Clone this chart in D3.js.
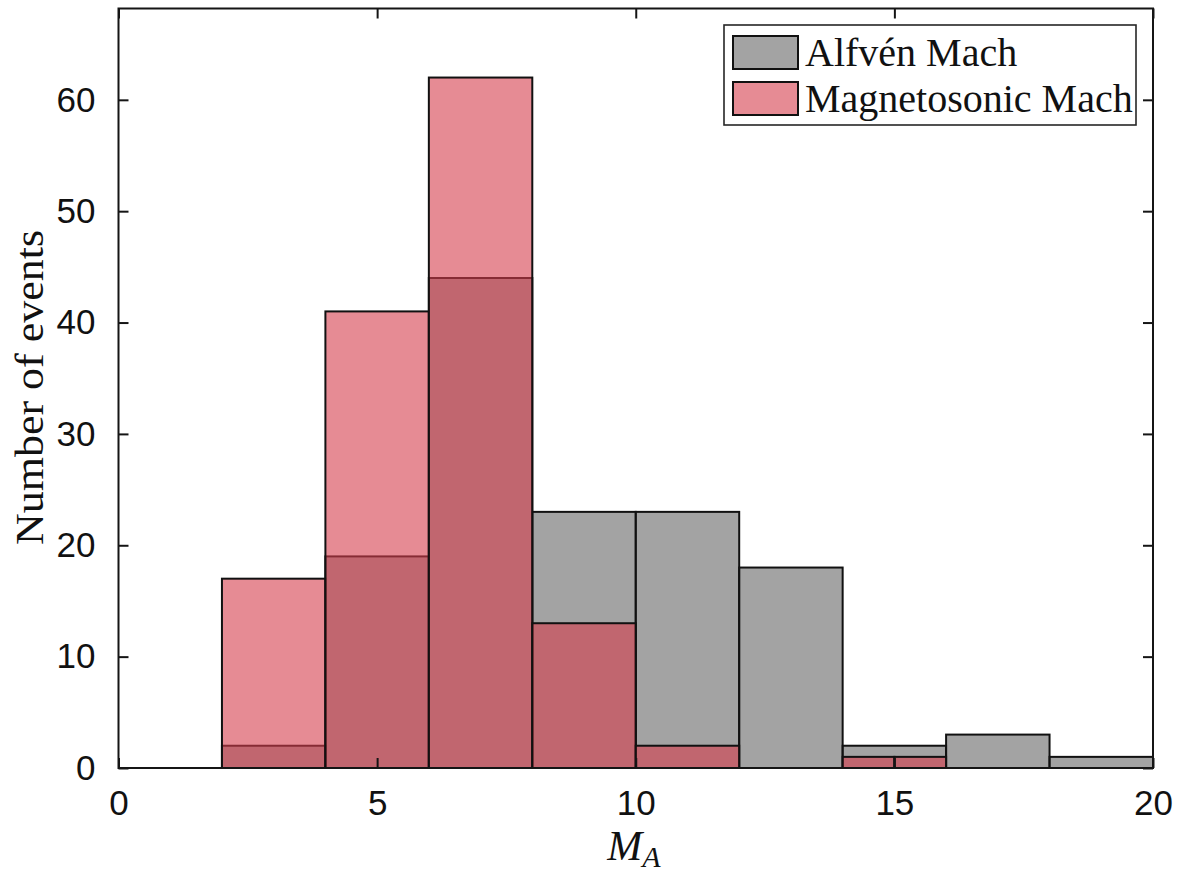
<!DOCTYPE html>
<html>
<head>
<meta charset="utf-8">
<script src="https://cdn.jsdelivr.net/npm/d3@7"></script>
<style>
  html, body { margin: 0; padding: 0; background: #fff; }
  svg { display: block; }
</style>
</head>
<body>
<svg id="chart" width="1180" height="872"></svg>
<script>
// Histogram bin edges and counts for the two Mach-number distributions
const alfvenEdges = [2, 4, 6, 8, 10, 12, 14, 16, 18, 20];
const alfvenCounts = [2, 19, 44, 23, 23, 18, 2, 3, 1];

const magnetoEdges = [2, 4, 6, 8, 10, 12, 14, 15, 16];
const magnetoCounts = [17, 41, 62, 13, 2, 0, 1, 1];

const xTicks = [0, 5, 10, 15, 20];
const yTicks = [0, 10, 20, 30, 40, 50, 60];

const seriesNames = ["Alfvén Mach", "Magnetosonic Mach"];

const svg = d3.select("#chart");
const margin = { left: 118.5, right: 1153, top: 8.5, bottom: 768 };

const x = d3.scaleLinear().domain([0, 20]).range([margin.left, margin.right]);
const y = d3.scaleLinear().domain([0, 68.2]).range([margin.bottom, margin.top]);

const grayFill = "rgb(102,102,102)";
const redFill = "rgb(213,62,77)";
const faceAlpha = 0.6;

function toBins(edges, counts) {
  return counts.map((c, i) => ({ x0: edges[i], x1: edges[i + 1], n: c })).filter(d => d.n > 0);
}

function drawBars(bins, fill) {
  svg.append("g")
    .selectAll("rect")
    .data(bins)
    .join("rect")
    .attr("x", d => x(d.x0))
    .attr("y", d => y(d.n))
    .attr("width", d => x(d.x1) - x(d.x0))
    .attr("height", d => y(0) - y(d.n))
    .attr("fill", fill)
    .attr("fill-opacity", faceAlpha)
    .attr("stroke", "#111")
    .attr("stroke-width", 2);
}

drawBars(toBins(alfvenEdges, alfvenCounts), grayFill);
drawBars(toBins(magnetoEdges, magnetoCounts), redFill);

// Axes box with inward ticks on all four sides
const tickLen = 10;
const axisColor = "#151515";
const tickFont = "'Liberation Sans', Arial, Helvetica, sans-serif";

const bottomAxis = d3.axisBottom(x).tickValues(xTicks).tickSize(-tickLen).tickPadding(tickLen + 12).tickFormat(d3.format("d"));
const topAxis = d3.axisTop(x).tickValues(xTicks).tickSize(-tickLen).tickFormat("");
const leftAxis = d3.axisLeft(y).tickValues(yTicks).tickSize(-tickLen).tickPadding(tickLen + 13).tickFormat(d3.format("d"));
const rightAxis = d3.axisRight(y).tickValues(yTicks).tickSize(-tickLen).tickFormat("");

function styleAxis(g) {
  g.select(".domain").remove();
  g.selectAll(".tick line").attr("stroke", axisColor).attr("stroke-width", 2);
  g.selectAll(".tick text")
    .attr("fill", "#111")
    .style("font-family", tickFont)
    .style("font-size", "35px");
}

svg.append("g").attr("transform", `translate(0,${margin.bottom})`).call(bottomAxis).call(styleAxis);
svg.append("g").attr("transform", `translate(0,${margin.top})`).call(topAxis).call(styleAxis);
svg.append("g").attr("transform", `translate(${margin.left},0)`).call(leftAxis).call(styleAxis);
svg.append("g").attr("transform", `translate(${margin.right},0)`).call(rightAxis).call(styleAxis);

svg.append("rect")
  .attr("x", margin.left)
  .attr("y", margin.top)
  .attr("width", margin.right - margin.left)
  .attr("height", margin.bottom - margin.top)
  .attr("fill", "none")
  .attr("stroke", axisColor)
  .attr("stroke-width", 2);

// Axis titles
const serif = "'Liberation Serif', 'Times New Roman', serif";

svg.append("text")
  .attr("transform", `translate(43,${(230 + 545) / 2}) rotate(-90)`)
  .attr("text-anchor", "middle")
  .attr("textLength", 315)
  .attr("lengthAdjust", "spacingAndGlyphs")
  .style("font-family", serif)
  .style("font-size", "41px")
  .attr("fill", "#111")
  .text("Number of events");

const xt = svg.append("text")
  .attr("x", 634)
  .attr("y", 860)
  .attr("text-anchor", "middle")
  .style("font-family", serif)
  .style("font-style", "italic")
  .style("font-size", "42px")
  .attr("fill", "#111");
xt.append("tspan").text("M");
xt.append("tspan").attr("dy", 7).style("font-size", "30px").text("A");

// Legend
const legend = svg.append("g");
legend.append("rect")
  .attr("x", 724).attr("y", 25)
  .attr("width", 412).attr("height", 100)
  .attr("fill", "#fff")
  .attr("stroke", "#262626")
  .attr("stroke-width", 1.6);

const legendRows = [
  { name: seriesNames[0], fill: grayFill, y: 36 },
  { name: seriesNames[1], fill: redFill, y: 82 }
];
legendRows.forEach(r => {
  legend.append("rect")
    .attr("x", 733).attr("y", r.y)
    .attr("width", 65).attr("height", 33)
    .attr("fill", r.fill)
    .attr("fill-opacity", faceAlpha)
    .attr("stroke", "#111")
    .attr("stroke-width", 2);
  legend.append("text")
    .attr("x", 805)
    .attr("y", r.y + 30)
    .style("font-family", serif)
    .style("font-size", "40px")
    .attr("fill", "#111")
    .text(r.name);
});
</script>
</body>
</html>
